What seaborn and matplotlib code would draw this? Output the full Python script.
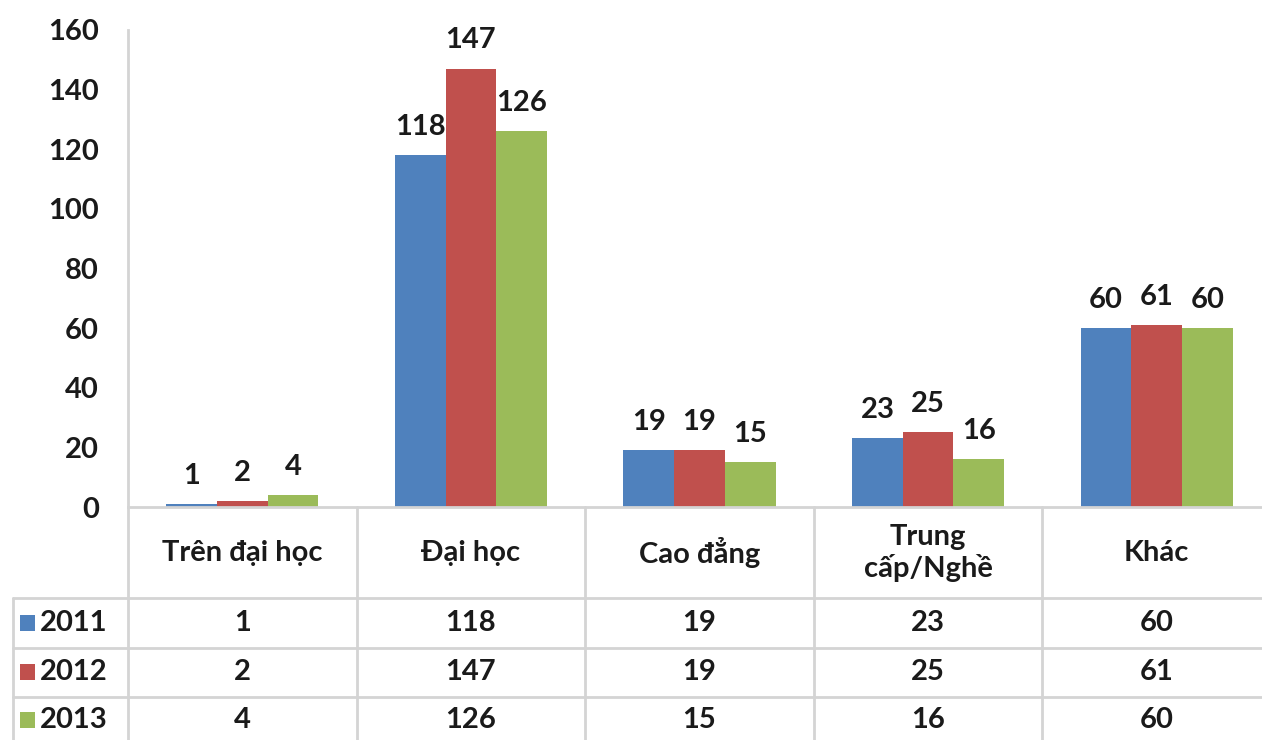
import matplotlib
matplotlib.use("Agg")
import matplotlib.pyplot as plt
import matplotlib.transforms as mtrans
from matplotlib.patches import Rectangle
from matplotlib.lines import Line2D
import seaborn as sns
import pandas as pd

categories = ["Trên đại học", "Đại học", "Cao đẳng", "Trung\ncấp/Nghề", "Khác"]
years = ["2011", "2012", "2013"]
values_2011 = [1, 118, 19, 23, 60]
values_2012 = [2, 147, 19, 25, 61]
values_2013 = [4, 126, 15, 16, 60]
yticks = [0, 20, 40, 60, 80, 100, 120, 140, 160]

colors = ["#4F81BD", "#C0504D", "#9BBB59"]
series = [values_2011, values_2012, values_2013]

rows = []
for y, vals in zip(years, series):
    for c, v in zip(categories, vals):
        rows.append({"cat": c, "year": y, "val": v})
df = pd.DataFrame(rows)

sns.set_theme(style="white")
plt.rcParams["font.family"] = ["Lato", "DejaVu Sans"]

W, H = 1262, 740
FS = 21
fig = plt.figure(figsize=(W / 100, H / 100), dpi=100)
fig.patch.set_facecolor("white")

def fx(px):
    return px / W

def fy(py):
    return 1 - py / H

left_px, right_px, top_px, zero_px = 128, 1271, 30, 507
ax = fig.add_axes([fx(left_px), fy(zero_px), (right_px - left_px) / W, (zero_px - top_px) / H])

sns.barplot(data=df, x="cat", y="val", hue="year", order=categories, hue_order=years,
            palette=colors, width=0.665, gap=0, saturation=1, ax=ax, legend=False,
            edgecolor="none", linewidth=0)

ax.set_ylim(0, 160)
ax.set_xlim(-0.5, 4.5)
ax.set_yticks(yticks)
ax.set_yticklabels([str(t) for t in yticks], fontsize=FS, fontweight="bold", color="#1a1a1a")
ax.tick_params(axis="y", length=0, pad=21)
ax.set_xticks([])
ax.set_xlabel("")
ax.set_ylabel("")
for s in ["top", "right"]:
    ax.spines[s].set_visible(False)
gray = "#D4D4D4"
ax.spines["left"].set_color(gray)
ax.spines["left"].set_linewidth(2)
ax.spines["bottom"].set_color(gray)
ax.spines["bottom"].set_linewidth(2)
ax.grid(False)

for cont in ax.containers:
    ax.bar_label(cont, fmt="%d", padding=11, fontsize=FS, fontweight="bold", color="#1a1a1a")

# data table below the axis
blend = mtrans.blended_transform_factory(ax.transData, fig.transFigure)
lw = 2
for b in [-0.5, 0.5, 1.5, 2.5, 3.5]:
    fig.add_artist(Line2D([b, b], [fy(zero_px), fy(H)], transform=blend, color=gray, lw=lw, clip_on=False))
fig.add_artist(Line2D([fx(13), fx(13)], [fy(598), fy(H)], transform=fig.transFigure, color=gray, lw=lw))
for py in [598, 648, 697]:
    fig.add_artist(Line2D([fx(13), 1], [fy(py), fy(py)], transform=fig.transFigure, color=gray, lw=lw))

txt_kw = dict(fontsize=FS, fontweight="bold", color="#1a1a1a", ha="center", va="center")
for i, c in enumerate(categories):
    fig.text(i, fy(553), c, transform=blend, linespacing=1.2, **txt_kw)

row_centers = [623, 672, 720]
for r, (y, vals, col) in enumerate(zip(years, series, colors)):
    py = row_centers[r]
    fig.add_artist(Rectangle((fx(20), fy(py + 8)), 15 / W, 16 / H, transform=fig.transFigure,
                             facecolor=col, edgecolor="none"))
    fig.text(fx(40), fy(py), y, fontsize=FS, fontweight="bold", color="#1a1a1a", ha="left", va="center")
    for i, v in enumerate(vals):
        fig.text(i, fy(py), str(v), transform=blend, **txt_kw)

fig.savefig("out.png", dpi=100, facecolor="white")
